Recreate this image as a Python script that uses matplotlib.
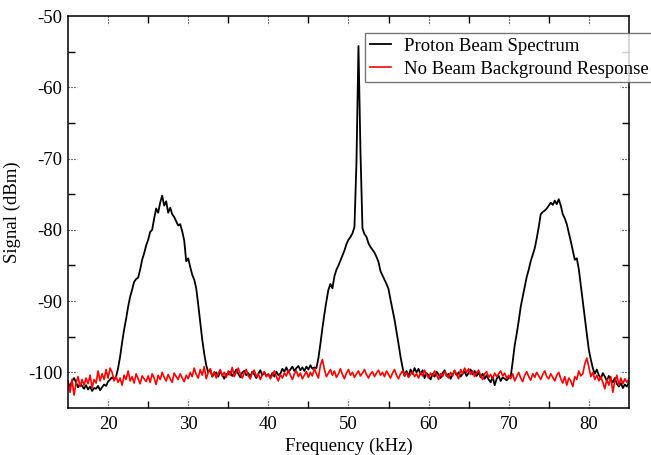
"""
Proton beam spectrum vs. no-beam background
"""

import numpy as np
import matplotlib
matplotlib.use("Agg")
import matplotlib.pyplot as plt
import matplotlib.transforms as mtransforms
from matplotlib.ticker import FixedLocator

plt.rcParams['font.family'] = ['Liberation Serif', 'DejaVu Serif']
plt.rcParams['axes.unicode_minus'] = False

# frequency axis, 0.25 kHz steps from 15 to 85 kHz
FREQ_START = 15.0
FREQ_STEP = 0.25

beam_dbm = [
    -101.5, -102.0, -101.2, -100.8, -101.4, -102.1, -101.6, -101.9, -102.3, -101.8,
    -102.4, -102.0, -102.6, -102.2, -102.3, -101.9, -102.5, -102.1, -101.7, -101.9,
    -101.3, -101.0, -100.7, -101.0, -100.6, -99.4, -97.8, -95.8, -94.0, -92.5,
    -90.8, -89.4, -88.4, -87.3, -86.9, -86.7, -85.6, -84.2, -83.3, -82.2,
    -81.4, -80.3, -80.0, -78.4, -77.0, -77.6, -76.2, -75.2, -76.6, -76.0,
    -77.6, -76.9, -77.8, -78.2, -78.8, -79.4, -79.2, -80.2, -81.5, -84.4,
    -84.0, -85.2, -86.3, -87.0, -88.2, -90.5, -93.0, -95.4, -97.4, -99.0,
    -100.0, -99.6, -100.6, -100.2, -100.0, -100.6, -99.8, -100.4, -100.9, -100.2,
    -100.3, -99.9, -100.5, -100.1, -99.6, -100.2, -100.7, -100.0, -99.8, -100.4,
    -100.1, -100.6, -99.9, -100.3, -100.8, -100.2, -99.7, -100.4, -100.0, -100.5,
    -100.3, -100.7, -100.1, -100.6, -99.9, -100.4, -100.2, -99.5, -99.9, -99.3,
    -100.0, -99.6, -99.2, -99.8, -99.4, -99.1, -99.7, -99.3, -99.8, -99.2,
    -99.6, -99.0, -99.5, -99.3, -99.4, -98.0, -96.0, -93.8, -91.8, -90.0,
    -88.4, -87.6, -88.2, -86.5, -85.6, -85.0, -84.3, -83.6, -82.9, -82.0,
    -81.4, -81.0, -80.5, -79.6, -70.5, -54.2, -69.0, -79.8, -80.6, -81.0,
    -81.9, -82.4, -82.8, -83.2, -83.8, -84.5, -85.8, -86.4, -87.0, -87.6,
    -88.3, -89.8, -91.2, -92.6, -94.3, -96.0, -97.8, -99.3, -100.5, -99.8,
    -100.6, -99.6, -100.2, -99.4, -100.0, -99.5, -100.3, -99.7, -100.8, -100.1,
    -100.4, -101.0, -100.2, -100.6, -99.9, -100.3, -100.8, -100.1, -99.7, -100.5,
    -100.2, -100.9, -100.3, -99.8, -100.4, -100.0, -100.6, -100.2, -99.9, -100.5,
    -100.1, -99.6, -100.3, -99.8, -100.5, -100.0, -100.7, -100.2, -100.9, -100.4,
    -101.0, -101.4, -100.6, -101.8, -100.9, -100.5, -101.2, -100.7, -100.9, -101.1,
    -100.8, -100.6, -98.5, -96.2, -94.6, -92.8, -90.8, -89.4, -88.0, -86.6,
    -85.6, -84.4, -83.5, -82.6, -81.2, -79.6, -77.8, -77.5, -77.3, -77.0,
    -76.6, -76.2, -76.5, -75.9, -76.4, -75.7, -76.6, -77.8, -78.4, -79.2,
    -80.4, -81.6, -82.9, -84.2, -84.0, -85.5, -87.8, -90.2, -92.4, -94.6,
    -96.8, -98.2, -99.4, -100.2, -99.6, -100.4, -100.9, -100.1, -100.6, -101.2,
    -100.5, -101.0, -101.4, -100.8, -101.6, -102.0, -101.5, -102.2, -101.7, -102.0,
    -101.4,
]

background_dbm = [
    -101.2, -102.8, -101.0, -103.2, -101.5, -100.6, -102.0, -101.0, -101.8, -100.8,
    -101.6, -100.4, -102.2, -101.0, -101.5, -99.8, -101.2, -100.2, -101.0, -99.6,
    -100.8, -99.4, -100.0, -101.2, -100.6, -101.4, -100.8, -101.8, -100.4, -101.0,
    -99.8, -101.2, -100.6, -101.5, -100.2, -100.9, -101.6, -100.5, -100.9, -101.3,
    -100.5, -101.4, -100.2, -100.8, -101.7, -100.4, -101.0, -100.0, -100.7, -101.2,
    -100.3, -100.9, -101.4, -100.1, -100.6, -101.0, -100.2, -100.8, -101.3, -100.4,
    -100.9, -100.0, -100.6, -99.4, -100.3, -100.8, -99.6, -100.4, -99.2, -100.9,
    -100.0, -99.5, -100.6, -99.9, -100.8, -100.2, -99.6, -100.5, -100.0, -100.7,
    -99.8, -100.4, -99.3, -100.6, -100.0, -99.4, -100.2, -100.8, -100.1, -99.6,
    -100.5, -100.9, -100.0, -99.7, -100.6, -100.2, -101.0, -100.3, -99.9, -100.6,
    -100.2, -100.9, -100.4, -99.8, -100.6, -101.2, -100.3, -100.8, -100.1, -100.5,
    -99.7, -100.4, -101.0, -100.2, -99.8, -100.6, -100.1, -100.9, -100.4, -99.9,
    -100.7, -100.0, -100.5, -99.4, -100.2, -100.8, -99.0, -98.2, -99.6, -100.6,
    -100.1, -99.6, -100.4, -99.8, -100.7, -100.2, -99.5, -100.3, -100.9, -100.1,
    -99.6, -100.4, -100.0, -100.7, -100.2, -99.8, -100.5, -100.1, -99.6, -100.3,
    -100.8, -100.2, -99.9, -100.6, -100.1, -99.7, -100.4, -100.0, -100.6, -99.8,
    -100.3, -100.8, -100.1, -99.6, -100.4, -100.9, -100.2, -99.8, -100.5, -100.0,
    -100.7, -100.3, -99.9, -100.6, -100.2, -100.8, -100.0, -100.5, -99.7, -100.3,
    -100.8, -100.1, -100.5, -99.8, -100.4, -101.0, -100.2, -100.6, -99.9, -100.4,
    -100.8, -100.0, -100.5, -99.7, -100.3, -100.9, -99.6, -100.2, -99.4, -100.0,
    -99.5, -100.3, -99.8, -100.6, -100.0, -99.7, -100.5, -101.0, -100.2, -99.9,
    -100.7, -100.3, -100.9, -100.1, -100.6, -100.2, -99.8, -100.5, -100.1, -100.8,
    -100.4, -100.9, -100.2, -101.2, -100.6, -100.0, -100.8, -101.3, -100.4, -99.9,
    -100.6, -101.1, -100.2, -100.7, -100.0, -100.5, -101.0, -100.3, -99.8, -100.6,
    -100.9, -100.2, -100.7, -101.2, -100.4, -100.0, -100.9, -101.5, -100.6, -101.8,
    -100.8, -101.2, -102.0, -100.6, -101.0, -99.8, -100.5, -100.2, -98.8, -98.0,
    -99.2, -100.6, -100.0, -101.0, -100.4, -101.2, -100.6, -101.4, -102.3, -101.0,
    -101.8, -100.6, -102.8, -101.2, -100.4, -101.8, -100.8, -101.6, -100.9, -101.4,
    -101.0,
]

x_major = [20, 30, 40, 50, 60, 70, 80]
x_minor = [25, 35, 45, 55, 65, 75]
y_major = [-100, -90, -80, -70, -60, -50]
y_minor = [-95, -85, -75, -65, -55]

freq_khz = FREQ_START + FREQ_STEP * np.arange(len(beam_dbm))

fig = plt.figure(figsize=(6.51, 4.55), dpi=100)
ax = fig.add_axes([0.1045, 0.1033, 0.8615, 0.8615])

ax.plot(freq_khz, beam_dbm, color='black', linewidth=1.3,
        label='Proton Beam Spectrum')
ax.plot(freq_khz, background_dbm, color='red', linewidth=1.2,
        label='No Beam Background Response')

ax.set_xlim(15, 85)
ax.set_ylim(-105, -50)
ax.set_xticks(x_major)
ax.set_yticks(y_major)
ax.xaxis.set_minor_locator(FixedLocator(x_minor))
ax.yaxis.set_minor_locator(FixedLocator(y_minor))
ax.tick_params(which='major', length=0, labelsize=13.5)
ax.tick_params(axis='y', which='major', pad=4)
ax.tick_params(axis='x', which='major', pad=6)
ax.tick_params(which='minor', direction='in', length=5, width=1,
               top=True, right=True)

# dotted major ticks on all four sides
tx = mtransforms.blended_transform_factory(ax.transData, ax.transAxes)
ty = mtransforms.blended_transform_factory(ax.transAxes, ax.transData)
for xv in x_major:
    ax.plot([xv, xv], [0, 0.022], transform=tx, color='black', lw=0.8, ls=':', clip_on=False)
    ax.plot([xv, xv], [1, 0.978], transform=tx, color='black', lw=0.8, ls=':', clip_on=False)
for yv in y_major[:-1]:
    ax.plot([0, 0.016], [yv, yv], transform=ty, color='black', lw=0.8, ls=':', clip_on=False)
    ax.plot([1, 0.984], [yv, yv], transform=ty, color='black', lw=0.8, ls=':', clip_on=False)

for sp in ax.spines.values():
    sp.set_linewidth(1.1)

ax.set_xlabel("Frequency (kHz)", fontsize=13.5, labelpad=3)
ax.set_ylabel("Signal (dBm)", fontsize=13.5, labelpad=5)

legend = ax.legend(loc='upper left', bbox_to_anchor=(365 / 651, 1 - 33 / 455),
                   bbox_transform=fig.transFigure, borderaxespad=0,
                   fontsize=13.5, fancybox=False, handlelength=1.15,
                   handletextpad=0.7, borderpad=0.25, labelspacing=0.3)
legend.get_frame().set_edgecolor('#555555')
legend.get_frame().set_linewidth(1.0)

fig.savefig("out.png", dpi=100)
